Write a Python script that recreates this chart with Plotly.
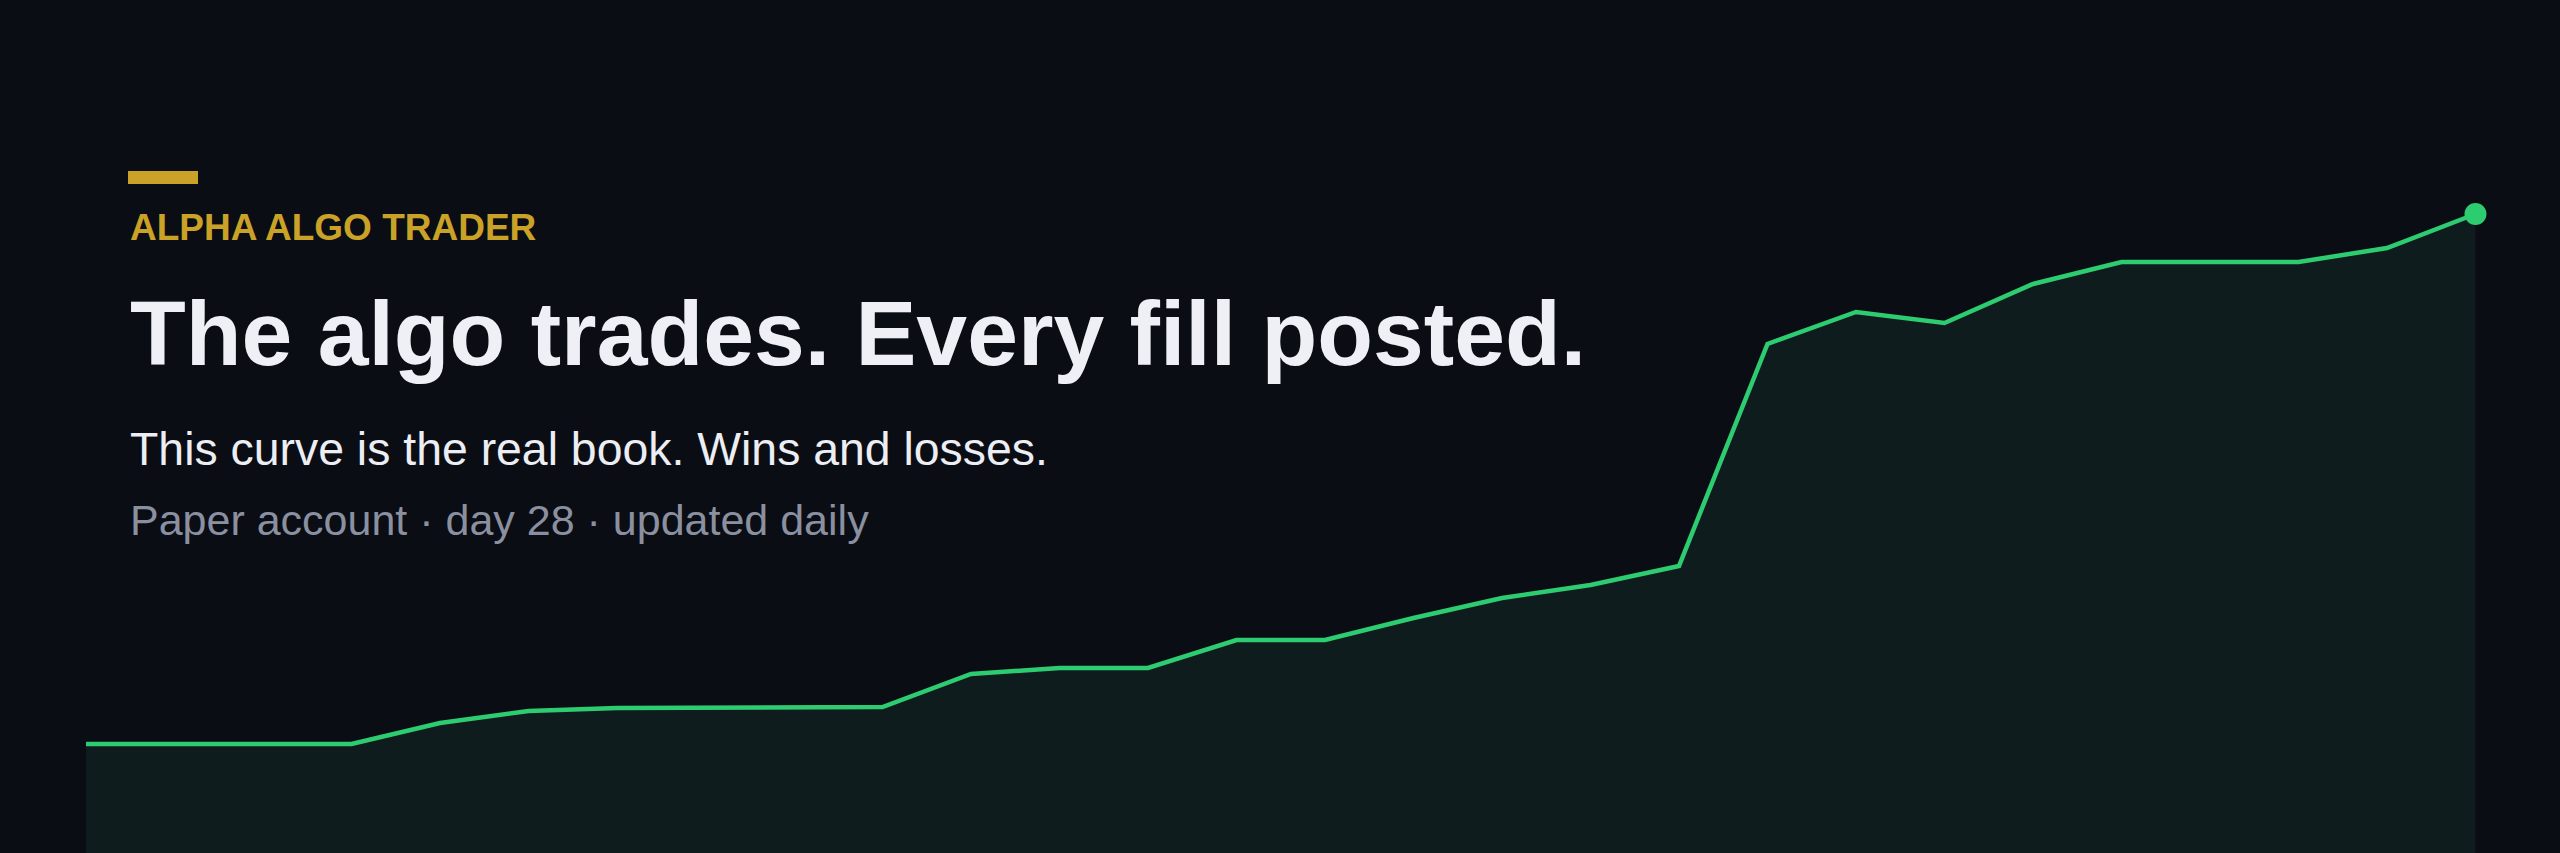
import plotly.graph_objects as go

# Equity curve, one point per trading day (paper account)
days = list(range(1, 29))
equity = [10000, 10000, 10000, 10000, 10105, 10165, 10180, 10180, 10180, 10185,
          10350, 10380, 10380, 10520, 10520, 10630, 10730, 10795, 10890, 12000,
          12160, 12105, 12300, 12410, 12410, 12410, 12480, 12650]

eyebrow = "ALPHA ALGO TRADER"
headline = "The algo trades. Every fill posted."
subline = "This curve is the real book. Wins and losses."
footnote = "Paper account · day 28 · updated daily"

W, H = 2560, 853
BG = "#0a0d14"
GREEN = "#2ecc71"
GOLD = "#c9a227"
FONT = "Liberation Sans, Arial, Helvetica, sans-serif"


def py(px):
    # pixel row from top -> paper y
    return 1 - px / H


fig = go.Figure()

fig.add_trace(go.Scatter(
    x=days, y=equity,
    mode="lines",
    line=dict(color=GREEN, width=4.5),
    fill="tozeroy",
    fillcolor="#0f1c1e",
    hoverinfo="skip",
))

# highlight the latest value
fig.add_trace(go.Scatter(
    x=days[-1:], y=equity[-1:],
    mode="markers",
    marker=dict(color=GREEN, size=22),
    hoverinfo="skip",
))

texts = [
    (eyebrow, 37, GOLD, "bold", 228),
    (headline, 91.3, "#eef0f5", "bold", 333),
    (subline, 46.4, "#eceef3", "normal", 449),
    (footnote, 43, "#8a90a0", "normal", 520),
]
for txt, size, color, weight, ypx in texts:
    fig.add_annotation(
        text=txt, xref="paper", yref="paper",
        x=128 / W, y=py(ypx), xanchor="left", yanchor="middle",
        showarrow=False,
        font=dict(family=FONT, size=size, color=color, weight=weight),
    )

# small gold accent bar above the eyebrow
fig.add_shape(
    type="rect", xref="paper", yref="paper",
    x0=128 / W, x1=198 / W, y0=py(184), y1=py(171),
    fillcolor=GOLD, line=dict(width=0),
)

fig.update_layout(
    width=W, height=H,
    margin=dict(l=0, r=0, t=0, b=0),
    paper_bgcolor=BG, plot_bgcolor=BG,
    showlegend=False,
    xaxis=dict(range=[0.028, 28.955], visible=False, fixedrange=True),
    yaxis=dict(range=[9455, 13720], visible=False, fixedrange=True),
)

fig.write_html(
    "out.html",
    config={"displayModeBar": False},
    post_script="document.body.style.margin='0';document.body.style.background='#0a0d14';",
)
